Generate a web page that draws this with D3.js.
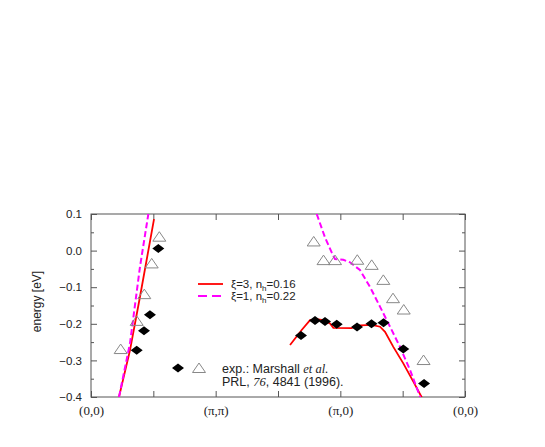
<!DOCTYPE html>
<html>
<head>
<meta charset="utf-8">
<script src="https://cdn.jsdelivr.net/npm/d3@7"></script>
<style>
  body { margin: 0; background: #fff; }
  svg { display: block; }
</style>
</head>
<body>
<div class="chart"></div>
<script>
// path positions along the k-path: (0,0) -> (pi,pi) -> (pi,0) -> (0,0)
const kTicks = [0, 1, 2, 3, 4, 5, 6];
const kLabelPos = [0, 2, 4, 6];
const kLabels = ["(0,0)", "(\u03c0,\u03c0)", "(\u03c0,0)", "(0,0)"];
const energyTicks = [0.1, 0.0, -0.1, -0.2, -0.3, -0.4];
const energyMinor = [0.05, -0.05, -0.15, -0.25, -0.35];

// theory xi=3, nh=0.16 (red solid), two branches
const red1 = [[0.449, -0.4], [0.626, -0.272], [0.786, -0.126], [1.011, 0.086]];
const red2 = [
  [3.193, -0.258], [3.380, -0.217], [3.514, -0.190], [3.621, -0.187],
  [3.727, -0.190], [3.834, -0.199], [3.888, -0.211], [4.183, -0.212],
  [4.236, -0.205], [4.503, -0.203], [4.637, -0.208], [4.717, -0.222],
  [4.850, -0.263], [5.010, -0.308], [5.171, -0.358], [5.310, -0.402]
];
// theory xi=1, nh=0.22 (magenta dashed)
const mag1 = [[0.449, -0.4], [0.626, -0.253], [0.786, -0.044], [0.920, 0.1]];
const mag2 = [
  [3.621, 0.100], [3.754, 0.036], [3.861, -0.005], [3.914, -0.023],
  [4.048, -0.025], [4.155, -0.032], [4.315, -0.053], [4.475, -0.099],
  [4.636, -0.153], [4.797, -0.208], [4.957, -0.263], [5.118, -0.326],
  [5.285, -0.402]
];
// experiment (Marshall et al.)
const diamonds = [
  [0.733, -0.272], [0.850, -0.219], [0.946, -0.175], [1.080, 0.006],
  [3.369, -0.232], [3.594, -0.191], [3.754, -0.194], [3.942, -0.201],
  [4.268, -0.209], [4.500, -0.200], [4.693, -0.197], [5.010, -0.269],
  [5.343, -0.363]
];
const triangles = [
  [0.476, -0.269], [0.733, -0.192], [0.855, -0.119], [0.974, -0.035],
  [1.096, 0.038], [3.573, 0.025], [3.730, -0.026], [3.915, -0.026],
  [4.272, -0.025], [4.503, -0.039], [4.690, -0.080], [4.845, -0.130],
  [5.017, -0.161], [5.335, -0.299]
];

const width = 545, height = 447;
const plotLeft = 91, plotRight = 465, plotTop = 214, plotBottom = 397;
const frameColor = "#555";

const svg = d3.select(".chart").append("svg")
  .attr("width", width)
  .attr("height", height);

const x = d3.scaleLinear().domain([0, 6]).range([plotLeft, plotRight]);
const y = d3.scaleLinear().domain([-0.4, 0.1]).range([plotBottom, plotTop]);

svg.append("clipPath").attr("id", "plot")
  .append("rect")
  .attr("x", plotLeft).attr("y", plotTop)
  .attr("width", plotRight - plotLeft).attr("height", plotBottom - plotTop);

function styleAxis(g) {
  g.select(".domain").remove();
  g.selectAll("line").attr("stroke", frameColor);
}

// left axis, ticks pointing in
svg.append("g")
  .attr("transform", `translate(${plotLeft},0)`)
  .call(d3.axisLeft(y).tickValues(energyTicks).tickFormat(d3.format(".1f"))
    .tickSizeInner(-6).tickSizeOuter(0).tickPadding(9))
  .call(styleAxis)
  .selectAll("text")
  .style("font", "11.5px 'Liberation Sans', Arial, sans-serif")
  .attr("fill", "#222");

svg.append("g")
  .attr("transform", `translate(${plotLeft},0)`)
  .call(d3.axisLeft(y).tickValues(energyMinor).tickFormat("").tickSizeInner(-3).tickSizeOuter(0))
  .call(styleAxis);

svg.append("g")
  .attr("transform", `translate(${plotRight},0)`)
  .call(d3.axisRight(y).tickValues(energyTicks).tickFormat("").tickSizeInner(-6).tickSizeOuter(0))
  .call(styleAxis);

svg.append("g")
  .attr("transform", `translate(${plotRight},0)`)
  .call(d3.axisRight(y).tickValues(energyMinor).tickFormat("").tickSizeInner(-3).tickSizeOuter(0))
  .call(styleAxis);

svg.append("g")
  .attr("transform", `translate(0,${plotTop})`)
  .call(d3.axisTop(x).tickValues(kTicks).tickFormat("").tickSizeInner(-6).tickSizeOuter(0))
  .call(styleAxis);

svg.append("g")
  .attr("transform", `translate(0,${plotBottom})`)
  .call(d3.axisBottom(x).tickValues(kTicks)
    .tickFormat((d) => { const i = kLabelPos.indexOf(d); return i < 0 ? "" : kLabels[i]; })
    .tickSizeInner(-6).tickSizeOuter(0).tickPadding(9))
  .call(styleAxis)
  .selectAll("text")
  .style("font", "13px 'Liberation Serif', 'Times New Roman', serif")
  .attr("fill", "#222");

svg.append("rect")
  .attr("x", plotLeft).attr("y", plotTop)
  .attr("width", plotRight - plotLeft).attr("height", plotBottom - plotTop)
  .attr("fill", "none")
  .attr("stroke", frameColor)
  .attr("stroke-width", 1);

svg.append("text")
  .attr("transform", `translate(41,${(plotTop + plotBottom) / 2 - 4}) rotate(-90)`)
  .attr("text-anchor", "middle")
  .style("font", "12px 'Liberation Sans Narrow', 'Liberation Sans', Arial, sans-serif")
  .attr("fill", "#222")
  .text("energy [eV]");

const line = d3.line().x((d) => x(d[0])).y((d) => y(d[1]));

const curves = svg.append("g").attr("clip-path", "url(#plot)");

[red1, red2].forEach((d) => {
  curves.append("path")
    .attr("d", line(d))
    .attr("fill", "none")
    .attr("stroke", "#ff0000")
    .attr("stroke-width", 1.8);
});

[mag1, mag2].forEach((d) => {
  curves.append("path")
    .attr("d", line(d))
    .attr("fill", "none")
    .attr("stroke", "#ff00ff")
    .attr("stroke-width", 2)
    .attr("stroke-dasharray", "6,3");
});

const diamondPath = (cx, cy) =>
  `M${cx - 6},${cy}L${cx},${cy - 4.5}L${cx + 6},${cy}L${cx},${cy + 4.5}Z`;
const trianglePath = (cx, cy) =>
  `M${cx - 6.5},${cy + 4.5}L${cx},${cy - 5}L${cx + 6.5},${cy + 4.5}Z`;

svg.selectAll(".tri")
  .data(triangles)
  .enter()
  .append("path")
  .attr("d", (d) => trianglePath(x(d[0]), y(d[1])))
  .attr("fill", "none")
  .attr("stroke", "#888")
  .attr("stroke-width", 1);

svg.selectAll(".dia")
  .data(diamonds)
  .enter()
  .append("path")
  .attr("d", (d) => diamondPath(x(d[0]), y(d[1])))
  .attr("fill", "#000");

// legend for theory curves
const legend = svg.append("g").attr("transform", "translate(198,284)");
legend.append("line")
  .attr("x1", 0).attr("x2", 25).attr("y1", 0).attr("y2", 0)
  .attr("stroke", "#ff0000").attr("stroke-width", 1.8);
legend.append("line")
  .attr("x1", 0).attr("x2", 25).attr("y1", 12).attr("y2", 12)
  .attr("stroke", "#ff00ff").attr("stroke-width", 2)
  .attr("stroke-dasharray", "9,5");

const legendFont = "11.5px 'Liberation Sans', Arial, sans-serif";
[["3", "0.16"], ["1", "0.22"]].forEach((p, i) => {
  const t = legend.append("text")
    .attr("x", 33).attr("y", i * 12 + 4)
    .style("font", legendFont)
    .attr("fill", "#222");
  t.append("tspan").text(`\u03be=${p[0]}, n`);
  t.append("tspan").attr("dy", 3).style("font-size", "8px").text("h");
  t.append("tspan").attr("dy", -3).text(`=${p[1]}`);
});

// legend for experimental data
const exp = svg.append("g").attr("transform", "translate(178,368)");
exp.append("path").attr("d", diamondPath(0, 0)).attr("fill", "#000");
exp.append("path").attr("d", trianglePath(21, 0))
  .attr("fill", "none").attr("stroke", "#888").attr("stroke-width", 1);

const expFont = "12.5px 'Liberation Sans', Arial, sans-serif";
const l1 = exp.append("text").attr("x", 44).attr("y", 5)
  .style("font", expFont).attr("fill", "#222");
l1.append("tspan").text("exp.: Marshall ");
l1.append("tspan").style("font-family", "'Liberation Serif', serif")
  .style("font-style", "italic").text("et al.");
const l2 = exp.append("text").attr("x", 44).attr("y", 18)
  .style("font", expFont).attr("fill", "#222");
l2.append("tspan").text("PRL, ");
l2.append("tspan").style("font-family", "'Liberation Serif', serif")
  .style("font-style", "italic").text("76");
l2.append("tspan").text(", 4841 (1996).");
</script>
</body>
</html>
